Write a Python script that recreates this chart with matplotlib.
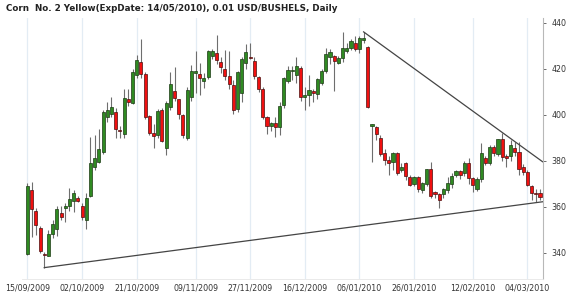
import matplotlib
matplotlib.use("Agg")
import matplotlib.pyplot as plt
import numpy as np

TITLE = "Corn  No. 2 Yellow(ExpDate: 14/05/2010), 0.01 USD/BUSHELS, Daily"

# daily OHLC (one entry per trading bar)
opens = [339.5, 367.3, 358.3, 350.6, 339.6, 338.7, 348.4, 350.2, 357.4, 359.7,
         360.4, 362.6, 363.7, 360.3, 354.5, 364.7, 377.4, 379.6, 384.0, 398.9,
         400.3, 401.0, 393.3, 391.6, 406.8, 405.2, 417.2, 423.0, 417.7, 399.3,
         392.0, 391.2, 402.0, 385.4, 403.5, 410.3, 406.8, 400.0, 389.7, 407.8,
         418.0, 417.7, 414.7, 416.5, 425.5, 426.7, 423.0, 419.9, 416.8, 412.9,
         402.5, 409.3, 422.3, 425.0, 423.3, 416.5, 411.0, 399.1, 395.1, 396.6,
         394.8, 404.2, 414.7, 419.0, 417.3, 420.2, 407.8, 408.6, 410.4, 409.0,
         413.7, 419.1, 425.2, 425.5, 422.6, 424.5, 427.7, 428.9, 431.0, 428.4,
         432.5, 429.3, 395.3, 394.5, 389.7, 383.2, 380.3, 379.6, 383.5, 376.0,
         378.9, 373.0, 369.9, 373.0, 367.2, 369.9, 376.3, 366.5, 365.4, 365.5,
         367.3, 369.9, 373.8, 375.5, 374.8, 378.9, 372.4, 367.6, 371.9, 381.0,
         378.9, 386.1, 382.8, 389.3, 382.0, 382.0, 385.4, 384.0, 377.4, 375.2,
         369.1, 366.0, 366.0]
highs = [370.5, 370.6, 359.3, 351.6, 340.4, 349.9, 354.2, 360.3, 360.3, 361.5,
         368.0, 367.3, 364.9, 361.7, 365.8, 390.4, 391.2, 393.6, 402.0, 405.7,
         407.8, 403.0, 395.0, 411.0, 411.0, 420.0, 426.0, 432.8, 418.5, 400.0,
         396.0, 402.5, 403.0, 406.0, 418.5, 420.9, 407.0, 400.5, 412.0, 421.6,
         427.8, 422.6, 418.0, 428.3, 428.5, 434.7, 425.0, 428.0, 427.5, 415.0,
         419.0, 425.0, 430.6, 431.0, 425.0, 417.0, 412.0, 399.5, 397.0, 399.0,
         405.5, 416.5, 421.2, 421.0, 425.2, 421.0, 412.0, 417.3, 411.0, 416.0,
         420.0, 429.1, 428.5, 426.0, 425.5, 436.1, 431.0, 433.0, 434.2, 434.0,
         436.0, 430.0, 396.0, 395.0, 391.0, 385.0, 382.0, 384.0, 384.0, 379.0,
         379.5, 374.0, 373.5, 373.5, 371.0, 376.5, 379.6, 367.0, 366.0, 368.0,
         373.0, 374.5, 376.0, 376.0, 380.0, 381.0, 373.0, 373.0, 387.8, 382.0,
         387.0, 387.0, 389.5, 391.9, 383.0, 389.0, 388.0, 388.3, 378.5, 376.0,
         369.5, 367.6, 367.6]
lows = [339.0, 347.0, 347.6, 340.0, 333.6, 338.5, 346.4, 347.2, 354.2, 353.5,
        358.3, 357.8, 361.9, 354.2, 350.2, 364.3, 376.0, 378.9, 383.0, 397.0,
        399.0, 389.9, 390.0, 390.0, 404.0, 404.5, 416.0, 416.0, 398.0, 391.0,
        385.4, 390.0, 388.0, 382.5, 402.0, 406.0, 398.0, 390.0, 389.0, 406.0,
        409.4, 408.6, 411.5, 415.5, 424.0, 422.0, 418.0, 415.0, 411.0, 400.5,
        401.0, 405.7, 420.0, 424.0, 415.5, 410.0, 398.0, 391.5, 393.0, 390.4,
        391.2, 403.0, 414.0, 415.0, 414.0, 406.0, 402.0, 404.0, 405.7, 407.0,
        413.0, 418.0, 422.0, 410.4, 422.0, 423.0, 427.0, 428.0, 427.5, 427.0,
        431.0, 403.0, 379.6, 389.0, 382.0, 378.1, 373.8, 376.0, 374.0, 375.2,
        371.6, 369.0, 369.0, 366.5, 366.0, 369.0, 364.0, 364.0, 359.7, 364.0,
        366.0, 368.0, 373.0, 372.0, 373.5, 370.0, 366.5, 367.0, 371.0, 378.0,
        378.0, 382.0, 382.0, 380.0, 377.4, 380.0, 382.0, 374.0, 374.0, 369.0,
        362.9, 362.2, 362.9]
closes = [369.0, 359.0, 352.0, 340.7, 338.9, 348.4, 352.5, 358.9, 355.7, 360.3,
          363.2, 366.1, 362.5, 355.7, 363.7, 378.9, 381.0, 385.0, 401.0, 402.0,
          403.2, 393.7, 392.8, 407.1, 405.7, 418.4, 423.8, 417.8, 399.0, 392.0,
          390.7, 401.7, 388.7, 405.2, 413.2, 407.3, 400.3, 391.2, 410.7, 419.1,
          419.1, 415.8, 415.8, 427.7, 427.7, 423.8, 420.6, 417.0, 413.3, 402.0,
          418.7, 424.1, 427.1, 424.8, 416.8, 411.2, 398.9, 395.1, 396.3, 394.8,
          404.0, 415.8, 419.4, 419.4, 421.2, 407.8, 408.5, 410.8, 409.6, 415.5,
          419.1, 426.4, 427.1, 423.5, 424.5, 428.9, 429.1, 432.2, 428.4, 433.2,
          433.3, 403.2, 395.5, 391.6, 382.8, 380.3, 379.1, 383.2, 374.8, 377.4,
          373.5, 369.4, 372.8, 367.8, 370.2, 376.3, 364.7, 365.5, 362.9, 367.6,
          370.4, 373.3, 375.5, 373.8, 379.1, 372.4, 369.4, 371.9, 383.2, 378.9,
          386.1, 383.2, 389.3, 381.5, 381.3, 386.8, 383.7, 376.5, 375.2, 369.4,
          365.8, 365.5, 364.3]

# bars carrying the date labels
date_idx = [0, 13, 26, 40, 53, 66, 79, 92, 106, 119]
date_labels = ["15/09/2009", "02/10/2009", "21/10/2009", "09/11/2009", "27/11/2009",
               "16/12/2009", "06/01/2010", "26/01/2010", "12/02/2010", "04/03/2010"]
price_ticks = [340, 360, 380, 400, 420, 440]

# trend lines: (bar, price) anchors
trend_low = ([4, 122.6], [333.6, 362.2])
trend_high = ([80, 122.6], [436.0, 379.6])

o = np.array(opens)
h = np.array(highs)
l = np.array(lows)
c = np.array(closes)
x = np.arange(len(o))
up = c >= o

fig = plt.figure(figsize=(5.7, 2.96), dpi=100)
ax = fig.add_axes([0.0386, 0.057, 0.914, 0.882])

for xi in date_idx:
    ax.axvline(xi, color="#e3ecf4", lw=0.9, zorder=0)

ax.vlines(x, l, h, color="#6e6e6e", lw=0.8, zorder=1)
body_lo = np.minimum(o, c)
body_h = np.maximum(np.abs(c - o), 0.5)
ax.bar(x[up], body_h[up], bottom=body_lo[up], width=0.74,
       color="#2f8a22", edgecolor="#1c3a14", lw=0.5, zorder=2)
ax.bar(x[~up], body_h[~up], bottom=body_lo[~up], width=0.74,
       color="#f01010", edgecolor="#4a1010", lw=0.5, zorder=2)

ax.plot(trend_low[0], trend_low[1], color="#444444", lw=0.9, zorder=3)
ax.plot(trend_high[0], trend_high[1], color="#444444", lw=0.9, zorder=3)

ax.set_xlim(-1.3, 122.7)
ax.set_ylim(328.6, 442.0)
ax.set_xticks(date_idx)
ax.set_xticklabels(date_labels)
ax.set_yticks(price_ticks)
ax.yaxis.tick_right()
ax.tick_params(axis="both", labelsize=5.7, colors="#333333", length=2, width=0.5, pad=4)
ax.tick_params(axis="x", length=0, pad=3)

for s in ("top", "left"):
    ax.spines[s].set_visible(False)
ax.spines["right"].set_color("#b8b8b8")
ax.spines["right"].set_linestyle((0, (1, 1)))
ax.spines["right"].set_linewidth(0.8)
ax.spines["bottom"].set_color("#e6e6e6")
ax.spines["bottom"].set_linewidth(0.6)

fig.text(0.0105, 0.985, TITLE, fontsize=6.3, fontweight="bold", color="#222222",
         va="top", ha="left")

fig.savefig("out.png", dpi=100)
plt.close()
